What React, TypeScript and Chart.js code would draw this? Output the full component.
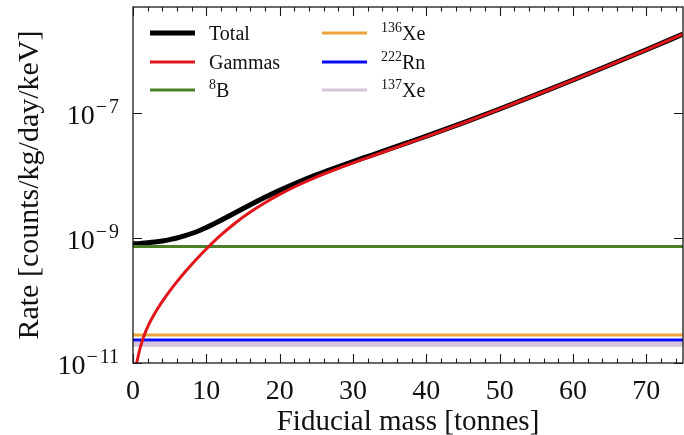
import React, { useEffect, useRef } from 'react';
import { Chart, registerables } from 'chart.js';

Chart.register(...registerables);

// ---------- data ----------
const MASS = [0, 0.5, 1, 1.5, 2, 3, 4, 5, 6, 7, 8, 9, 10, 12, 14, 16, 18, 20, 22.5, 25, 27.5, 30, 32.5, 35, 37.5, 40, 45, 50, 55, 60, 65, 70, 75];
const GAMMAS = [5e-12, 1.0e-11, 1.778e-11, 2.72e-11, 3.8e-11, 6.31e-11, 9.66e-11, 1.413e-10, 2.004e-10, 2.78e-10, 3.784e-10, 5.07e-10, 6.68e-10, 1.119e-9, 1.758e-9, 2.6e-9, 3.67e-9, 4.98e-9, 6.99e-9, 9.43e-9, 1.236e-8, 1.592e-8, 2.028e-8, 2.582e-8, 3.289e-8, 4.188e-8, 6.87e-8, 1.153e-7, 1.959e-7, 3.365e-7, 5.85e-7, 1.028e-6, 1.828e-6];
const TOTAL = [8.06e-10, 8.11e-10, 8.19e-10, 8.29e-10, 8.39e-10, 8.64e-10, 8.98e-10, 9.43e-10, 1.002e-9, 1.079e-9, 1.18e-9, 1.308e-9, 1.469e-9, 1.92e-9, 2.56e-9, 3.4e-9, 4.47e-9, 5.78e-9, 7.79e-9, 1.023e-8, 1.316e-8, 1.672e-8, 2.108e-8, 2.662e-8, 3.369e-8, 4.268e-8, 6.95e-8, 1.161e-7, 1.967e-7, 3.373e-7, 5.858e-7, 1.029e-6, 1.829e-6];
const B8_RATE = 7.3e-10;
const XE136_RATE = 2.8e-11;
const RN222_RATE = 2.33e-11;
const XE137_RATE = 2.0e-11;

const X_MIN = 0;
const X_MAX = 75;
const X_MAJOR_STEP = 10;
const X_MINOR_STEP = 2;
const Y_MIN = 1e-11;
const Y_MAX = 4.97e-6;
const Y_TICKS = [1e-11, 1e-9, 1e-7];
const Y_TICK_EXPONENTS = ['11', '9', '7'];

const X_TITLE = 'Fiducial mass [tonnes]';
const Y_TITLE = 'Rate [counts/kg/day/keV]';

const FONT = "'Liberation Serif', 'DejaVu Serif', serif";

const COLORS = {
  total: '#000000',
  gammas: '#e0161b',
  b8: '#4a8029',
  xe136: '#eba43a',
  rn222: '#0a0af5',
  xe137: '#d9c2dc',
};

const LEGEND = [
  { sup: '', label: 'Total', color: COLORS.total, width: 5 },
  { sup: '', label: 'Gammas', color: COLORS.gammas, width: 3 },
  { sup: '8', label: 'B', color: COLORS.b8, width: 3 },
  { sup: '136', label: 'Xe', color: COLORS.xe136, width: 3 },
  { sup: '222', label: 'Rn', color: COLORS.rn222, width: 3 },
  { sup: '137', label: 'Xe', color: COLORS.xe137, width: 3 },
];

const flat = (v: number) => [{ x: X_MIN, y: v }, { x: X_MAX, y: v }];
const curve = (arr: number[]) => MASS.map((m, i) => ({ x: m, y: arr[i] }));

const framePlugin = {
  id: 'frameTicksLegend',
  afterDraw(chart: any) {
    const { ctx, chartArea: a, scales } = chart;
    const xs = scales.x;
    const ys = scales.y;
    ctx.save();
    ctx.strokeStyle = '#1a1a1a';
    ctx.lineWidth = 1.3;
    ctx.strokeRect(a.left, a.top, a.right - a.left, a.bottom - a.top);

    // x ticks (inward, top and bottom)
    ctx.lineWidth = 1.1;
    for (let v = X_MIN; v <= X_MAX; v += X_MINOR_STEP) {
      const px = Math.round(xs.getPixelForValue(v)) + 0.5;
      const len = v % X_MAJOR_STEP === 0 ? 9 : 4.5;
      ctx.beginPath();
      ctx.moveTo(px, a.bottom);
      ctx.lineTo(px, a.bottom - len);
      ctx.moveTo(px, a.top);
      ctx.lineTo(px, a.top + len);
      ctx.stroke();
    }
    // y ticks (inward, left and right) + labels
    Y_TICKS.forEach((v, i) => {
      const py = Math.round(ys.getPixelForValue(v)) + 0.5;
      ctx.strokeStyle = '#1a1a1a';
      ctx.beginPath();
      ctx.moveTo(a.left, py);
      ctx.lineTo(a.left + 9, py);
      ctx.moveTo(a.right, py);
      ctx.lineTo(a.right - 9, py);
      ctx.stroke();

      const right = a.left - 14;
      ctx.fillStyle = '#111';
      ctx.textAlign = 'left';
      ctx.textBaseline = 'alphabetic';
      ctx.font = `20px ${FONT}`;
      const digits = Y_TICK_EXPONENTS[i];
      const minusW = ctx.measureText('\u2212').width;
      const digW = ctx.measureText(digits).width;
      const gap = 2;
      const expStart = right - digW - gap - minusW;
      ctx.fillText('\u2212', expStart, py - 1);
      ctx.fillText(digits, expStart + minusW + gap, py - 1);
      ctx.font = `28px ${FONT}`;
      ctx.textAlign = 'right';
      ctx.fillText('10', expStart - 1, py + 10);
    });

    // legend
    const colX = [a.left + 17, a.left + 189];
    const rowY = [a.top + 26, a.top + 55, a.top + 83];
    LEGEND.forEach((item, i) => {
      const cx = colX[Math.floor(i / 3)];
      const cy = rowY[i % 3];
      ctx.strokeStyle = item.color;
      ctx.lineWidth = item.width;
      ctx.beginPath();
      ctx.moveTo(cx, cy);
      ctx.lineTo(cx + 45, cy);
      ctx.stroke();
      ctx.fillStyle = '#111';
      ctx.textAlign = 'left';
      ctx.textBaseline = 'alphabetic';
      let tx = cx + 59;
      if (item.sup) {
        ctx.font = `14px ${FONT}`;
        ctx.fillText(item.sup, tx, cy - 1);
        tx += ctx.measureText(item.sup).width;
      }
      ctx.font = `20px ${FONT}`;
      ctx.fillText(item.label, tx, cy + 7);
    });
    ctx.restore();
  },
};

export default function App() {
  const ref = useRef<HTMLCanvasElement | null>(null);
  useEffect(() => {
    if (!ref.current) return;
    const lineDs = (label: string, data: any[], color: string, width: number) => ({
      label,
      data,
      borderColor: color,
      backgroundColor: color,
      borderWidth: width,
      pointRadius: 0,
      pointHoverRadius: 0,
      fill: false,
      cubicInterpolationMode: 'monotone' as const,
      borderJoinStyle: 'round' as const,
    });
    const chart = new Chart(ref.current, {
      type: 'line',
      data: {
        datasets: [
          lineDs('Gammas', curve(GAMMAS), COLORS.gammas, 3),
          lineDs('222Rn', flat(RN222_RATE), COLORS.rn222, 3),
          lineDs('136Xe', flat(XE136_RATE), COLORS.xe136, 3),
          lineDs('137Xe', flat(XE137_RATE), COLORS.xe137, 5),
          lineDs('8B', flat(B8_RATE), COLORS.b8, 3),
          lineDs('Total', curve(TOTAL), COLORS.total, 5),
        ],
      },
      options: {
        responsive: false,
        animation: false,
        devicePixelRatio: 1,
        layout: { padding: { top: 7, right: 1, left: 0, bottom: 0 } },
        plugins: {
          legend: { display: false },
          tooltip: { enabled: false },
        },
        scales: {
          x: {
            type: 'linear',
            min: X_MIN,
            max: X_MAX,
            grid: { display: false, drawTicks: false },
            border: { display: false },
            ticks: {
              stepSize: X_MAJOR_STEP,
              includeBounds: false,
              autoSkip: false,
              maxRotation: 0,
              padding: 12,
              color: '#111',
              font: { family: FONT, size: 28 },
            },
            title: {
              display: true,
              text: X_TITLE,
              color: '#111',
              font: { family: FONT, size: 29, lineHeight: 0.88 },
              padding: { top: 0, bottom: 0 },
            },
            afterFit: (s: any) => { s.height = 72; },
          },
          y: {
            type: 'logarithmic',
            min: Y_MIN,
            max: Y_MAX,
            grid: { display: false, drawTicks: false },
            border: { display: false },
            ticks: { display: false },
            title: {
              display: true,
              text: Y_TITLE,
              color: '#111',
              font: { family: FONT, size: 30 },
              padding: { top: 12, bottom: 0 },
            },
            afterFit: (s: any) => { s.width = 133; },
          },
        },
      },
      plugins: [framePlugin],
    });
    return () => chart.destroy();
  }, []);
  return (
    <div style={{ position: 'absolute', left: 0, top: 0, width: 684, height: 435, background: '#fff' }}>
      <canvas ref={ref} width={684} height={435} />
    </div>
  );
}
